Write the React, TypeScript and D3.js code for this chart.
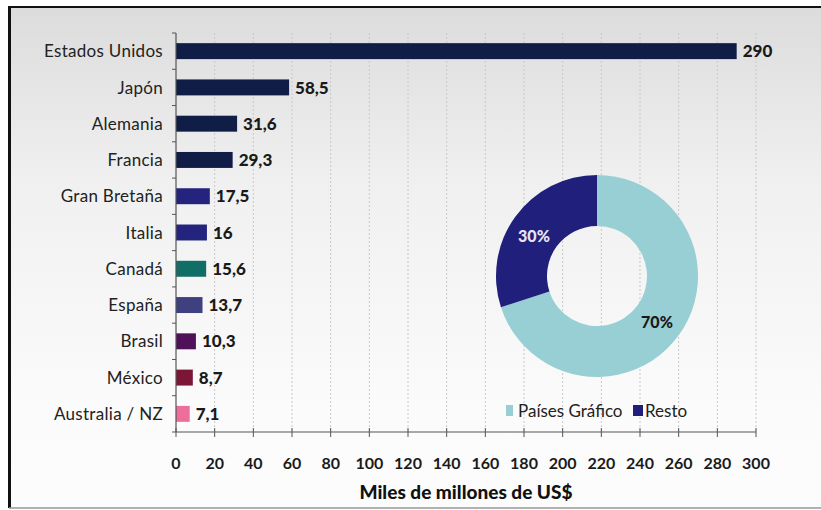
import React from "react";
import * as d3 from "d3";

const categories = [
  "Estados Unidos", "Japón", "Alemania", "Francia", "Gran Bretaña", "Italia",
  "Canadá", "España", "Brasil", "México", "Australia / NZ",
];
const values = [290, 58.5, 31.6, 29.3, 17.5, 16, 15.6, 13.7, 10.3, 8.7, 7.1];
const valueLabels = ["290", "58,5", "31,6", "29,3", "17,5", "16", "15,6", "13,7", "10,3", "8,7", "7,1"];
const barColors = [
  "#101d46", "#101d46", "#101d46", "#101d46", "#24247f", "#24247f",
  "#106e66", "#3e407f", "#4f1259", "#7c1636", "#ee6e9b",
];
const xTicks = [0, 20, 40, 60, 80, 100, 120, 140, 160, 180, 200, 220, 240, 260, 280, 300];

const pieLabels = ["Países Gráfico", "Resto"];
const pieValues = [70, 30];
const pieColors = ["#98cfd4", "#20207c"];
const pieTextColors = ["#1a1a1a", "#e8e4f4"];

const W = 821;
const H = 510;
const FONT = "Lato, 'Open Sans', sans-serif";

export default function App() {
  const x = d3.scaleLinear().domain([0, 300]).range([176, 756]);
  const y = d3.scaleBand<string>().domain(categories).range([33, 432]).paddingInner(0.56).paddingOuter(0.28);
  const bandEdges = d3.range(categories.length + 1).map((i) => 33 + i * ((432 - 33) / categories.length));

  const cx = 597, cy = 276, rOut = 101, rIn = 50;
  const pie = d3.pie<number>().sort(null).startAngle(0).endAngle(2 * Math.PI)(pieValues);
  const arc = d3.arc<d3.PieArcDatum<number>>().innerRadius(rIn).outerRadius(rOut);
  const labelPos = [[657, 322], [534, 236]];

  return (
    <svg width={W} height={H} style={{ position: "absolute", left: 0, top: 0 }} fontFamily={FONT}>
      <defs>
        <linearGradient id="bg" x1="0" y1="0" x2="0" y2="1">
          <stop offset="0" stopColor="#dcdcdc" />
          <stop offset="0.35" stopColor="#f0f0f0" />
          <stop offset="0.8" stopColor="#fbfbfb" />
          <stop offset="1" stopColor="#fcfcfc" />
        </linearGradient>
      </defs>
      <rect x={0} y={0} width={W} height={H} fill="#ffffff" />
      <rect x={10} y={7} width={W - 10} height={501} fill="url(#bg)" />
      <line x1={9} x2={W} y1={7} y2={7} stroke="#111" strokeWidth={2} />
      <line x1={9.5} x2={9.5} y1={6} y2={508} stroke="#111" strokeWidth={3} />
      <line x1={9} x2={W} y1={508} y2={508} stroke="#999" strokeWidth={1.5} />

      {/* grid */}
      {xTicks.filter((t) => t > 0).map((t) => (
        <line key={"g" + t} x1={x(t)} x2={x(t)} y1={33} y2={432} stroke="#c8c8c8" strokeWidth={1} strokeDasharray="2,2" />
      ))}

      {/* bars */}
      {categories.map((c, i) => (
        <g key={c}>
          <rect x={x(0)} y={y(c)!} width={x(values[i]) - x(0)} height={y.bandwidth()} fill={barColors[i]} />
          <text x={x(values[i]) + 6} y={y(c)! + y.bandwidth() / 2} dy="0.36em" fontSize={17} fontWeight={900} fill="#1a1a1a">
            {valueLabels[i]}
          </text>
          <text x={163} y={y(c)! + y.bandwidth() / 2} dy="0.36em" fontSize={17} letterSpacing={0.3} textAnchor="end" fill="#222">
            {c}
          </text>
        </g>
      ))}

      {/* y axis */}
      <line x1={x(0)} x2={x(0)} y1={33} y2={432} stroke="#555" strokeWidth={1.2} />
      {bandEdges.map((e, i) => (
        <line key={"yt" + i} x1={x(0) - 4} x2={x(0)} y1={e} y2={e} stroke="#555" strokeWidth={1} />
      ))}

      {/* x axis */}
      <line x1={x(0)} x2={x(300)} y1={432} y2={432} stroke="#555" strokeWidth={1.2} />
      {xTicks.map((t) => (
        <g key={"xt" + t}>
          <line x1={x(t)} x2={x(t)} y1={428} y2={437} stroke="#555" strokeWidth={1} />
          <text x={x(t)} y={463} dy="0.36em" textAnchor="middle" fontSize={16} fontWeight={700} fill="#1a1a1a">
            {t}
          </text>
        </g>
      ))}
      <text x={466} y={492} dy="0.36em" textAnchor="middle" fontSize={19} fontWeight={900} fill="#111">
        Miles de millones de US$
      </text>

      {/* donut */}
      <g transform={`translate(${cx},${cy})`}>
        {pie.map((p, i) => (
          <path key={"p" + i} d={arc(p)!} fill={pieColors[i]} />
        ))}
      </g>
      {pie.map((p, i) => (
        <text key={"pl" + i} x={labelPos[i][0]} y={labelPos[i][1]} dy="0.36em" textAnchor="middle" fontSize={16} fontWeight={900} fill={pieTextColors[i]}>
          {pieValues[i]}%
        </text>
      ))}

      {/* legend */}
      <rect x={506} y={405} width={7} height={11} fill={pieColors[0]} />
      <text x={518} y={411} dy="0.36em" fontSize={17} fill="#222">{pieLabels[0]}</text>
      <rect x={633} y={405} width={10} height={11} fill={pieColors[1]} />
      <text x={645} y={411} dy="0.36em" fontSize={17} fill="#222">{pieLabels[1]}</text>
    </svg>
  );
}
